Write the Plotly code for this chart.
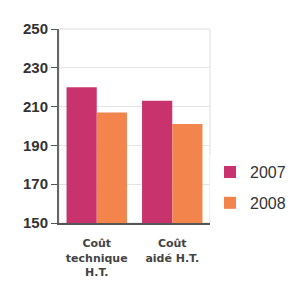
import plotly.graph_objects as go

categories = ["Coût<br>technique<br>H.T.", "Coût<br>aidé H.T."]
series_names = ["2007", "2008"]
values_2007 = [220, 213]
values_2008 = [207, 201]
y_ticks = [150, 170, 190, 210, 230, 250]

colors = ["#c8336e", "#f2844c"]

fig = go.Figure()
for name, vals, col in zip(series_names, [values_2007, values_2008], colors):
    fig.add_trace(go.Bar(x=categories, y=vals, name=name, marker_color=col,
                         marker_line_width=0, legendgroup=name))

fig.update_layout(
    width=295, height=283,
    margin=dict(l=51, r=93, t=15, b=67),
    paper_bgcolor="white", plot_bgcolor="white",
    barmode="group", bargap=0.2, bargroupgap=0,
    font=dict(family="Liberation Sans, Arial, sans-serif", color="#333"),
    legend=dict(x=1.0, y=0.35, yanchor="top", xanchor="left",
                font=dict(size=16, color="#333"), itemsizing="constant",
                traceorder="grouped", tracegroupgap=7),
    showlegend=True,
)
fig.update_yaxes(range=[150, 250], tickvals=y_ticks, ticks="outside", ticklen=6,
                 tickcolor="#555", showline=True, linecolor="#666", linewidth=2,
                 showgrid=True, gridcolor="#e4e4e4", gridwidth=1,
                 tickfont=dict(size=15, color="#333", family="Liberation Sans, Arial", weight="bold"),
                 mirror=False, zeroline=False)
fig.update_xaxes(showline=True, linecolor="#555", linewidth=2, ticks="",
                 ticklabelstandoff=9,
                 tickfont=dict(size=11, color="#444", family="DejaVu Sans", weight="bold"))
fig.add_shape(type="rect", xref="paper", yref="paper", x0=0, x1=1, y0=0, y1=1,
              line=dict(color="#dddddd", width=1), layer="below")
fig.write_html("out.html")
